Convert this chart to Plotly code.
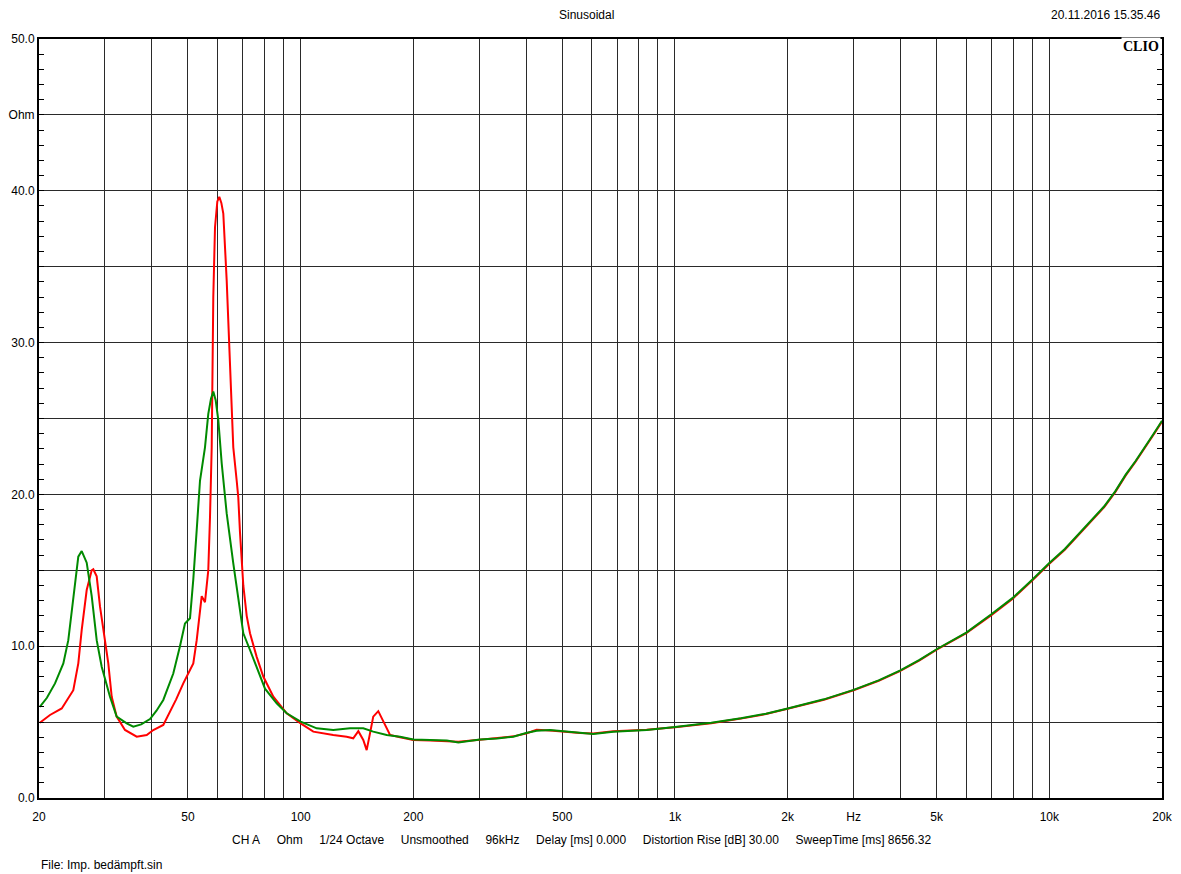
import plotly.graph_objects as go

# ---- Data ----
green_freq = [20.1, 21.0, 22.07, 23.23, 23.95, 24.70, 25.47, 26.01, 26.82, 27.66, 28.52, 29.41, 30.95,
              32.25, 34.30, 35.72, 37.5, 39.59, 41.2, 42.96, 45.68, 47.60, 49.09, 50.63, 51.67, 52.76,
              53.84, 55.52, 56.66, 57.6, 58.43, 59.3, 60.26, 61.53, 63.45, 66.08, 68.14, 70.28, 73.23,
              76.31, 80.31, 86.30, 91.77, 100, 110.4, 122.2, 135.5, 147.0, 156.3, 169.8, 184.3, 200,
              222, 245.7, 263.8, 301, 335, 369.9, 400, 427, 463.6, 510, 557.6, 605, 684, 760, 840,
              1000, 1250, 1500, 1750, 2000, 2500, 3000, 3500, 4000, 4500, 5000, 6000, 7000, 8000,
              9000, 10000, 11000, 12000, 13000, 14000, 15000, 16000, 17000, 18000, 19000, 20000]
green_ohm = [6.0, 6.6, 7.55, 8.87, 10.4, 13.3, 15.9, 16.27, 15.5, 13.3, 10.4, 8.65, 6.67,
             5.36, 4.92, 4.70, 4.85, 5.2, 5.75, 6.46, 8.2, 10.0, 11.5, 11.84, 14.4, 17.65,
             20.9, 23.1, 25.3, 26.3, 26.77, 26.2, 24.9, 22.05, 18.75, 15.46, 13.0, 10.85, 9.75,
             8.65, 7.2, 6.24, 5.58, 5.03, 4.59, 4.48, 4.59, 4.59, 4.37, 4.15, 4.04, 3.85,
             3.80, 3.78, 3.66, 3.86, 3.92, 4.04, 4.28, 4.43, 4.48, 4.38, 4.30, 4.22, 4.37, 4.42, 4.48,
             4.68, 4.95, 5.25, 5.55, 5.9, 6.5, 7.12, 7.75, 8.41, 9.1, 9.8, 10.9, 12.1, 13.2,
             14.38, 15.48, 16.4, 17.4, 18.3, 19.2, 20.2, 21.3, 22.2, 23.1, 24.0, 24.85]

red_freq = [20.1, 21.40, 23.00, 24.70, 25.47, 26.01, 26.82, 27.66, 27.93, 28.52, 29.11, 30.02,
            30.63, 31.28, 32.25, 33.94, 36.48, 38.80, 40.40, 42.96, 44.77, 46.5, 48.58, 50.2, 51.67,
            52.76, 54.41, 55.52, 56.66, 57.26, 57.86, 58.43, 59.05, 59.9, 60.63, 61.4, 62.14, 63.45,
            64.75, 66.08, 67.48, 68.14, 68.86, 70.28, 71.76, 73.23, 76.31, 79.47, 84.53, 91.77, 100,
            108.1, 122.2, 132.7, 138.2, 142.6, 147.0, 150.1, 153.2, 156.3, 161.2, 166.3, 173.3, 184.3,
            200, 222, 245.7, 263.8, 301, 335, 369.9, 400, 427, 463.6, 510, 557.6, 605, 684, 760, 840,
            1000, 1250, 1500, 1750, 2000, 2500, 3000, 3500, 4000, 4500, 5000, 6000, 7000, 8000,
            9000, 10000, 11000, 12000, 13000, 14000, 15000, 16000, 17000, 18000, 19000, 20000]
red_ohm = [4.96, 5.47, 5.9, 7.1, 8.87, 11.07, 13.7, 15.0, 15.07, 14.6, 12.6, 10.2,
           8.87, 6.67, 5.36, 4.48, 4.04, 4.15, 4.48, 4.81, 5.69, 6.5, 7.55, 8.2, 8.87,
           10.4, 13.3, 12.9, 15.0, 18.5, 23.1, 33.0, 37.6, 39.3, 39.6, 39.2, 38.5, 34.1,
           28.6, 23.1, 20.9, 19.8, 17.5, 14.0, 12.0, 10.85, 9.3, 8.0, 6.67, 5.58, 4.92,
           4.37, 4.15, 4.04, 3.93, 4.40, 3.82, 3.15, 4.26, 5.36, 5.72, 5.03, 4.15, 4.0,
           3.82, 3.78, 3.74, 3.70, 3.84, 3.95, 4.06, 4.25, 4.50, 4.45, 4.35, 4.28, 4.25, 4.40, 4.44, 4.50,
           4.66, 4.93, 5.23, 5.53, 5.88, 6.47, 7.10, 7.72, 8.38, 9.07, 9.77, 10.86, 12.05, 13.15,
           14.33, 15.43, 16.35, 17.35, 18.25, 19.15, 20.15, 21.25, 22.15, 23.05, 23.95, 24.8]

x_tickvals = [20, 30, 40, 50, 60, 70, 80, 90, 100, 200, 300, 400, 500, 600, 700, 800, 900,
              1000, 2000, 3000, 4000, 5000, 6000, 7000, 8000, 9000, 10000, 20000]
x_ticktext = ["20", "", "", "50", "", "", "", "", "100", "200", "", "", "500", "", "", "", "",
              "1k", "2k", "Hz", "", "5k", "", "", "", "", "10k", "20k"]
y_tickvals = [0, 5, 10, 15, 20, 25, 30, 35, 40, 45, 50]
y_ticktext = ["0.0", "", "10.0", "", "20.0", "", "30.0", "", "40.0", "Ohm", "50.0"]

FONT = "Liberation Sans, Arial, sans-serif"
FS = 12

fig = go.Figure()
fig.add_trace(go.Scatter(x=red_freq, y=red_ohm, mode="lines",
                         line=dict(color="#ff0000", width=2), showlegend=False))
fig.add_trace(go.Scatter(x=green_freq, y=green_ohm, mode="lines",
                         line=dict(color="#008a00", width=2), showlegend=False))

fig.update_layout(
    width=1181, height=874,
    margin=dict(l=39, r=19, t=39, b=76, autoexpand=False),
    paper_bgcolor="white", plot_bgcolor="white",
    font=dict(family=FONT, size=FS, color="#000000"),
    xaxis=dict(type="log", range=[1.30103, 4.30103], automargin=False,
               tickmode="array", tickvals=x_tickvals, ticktext=x_ticktext,
               showgrid=True, gridcolor="#2a2a2a", gridwidth=1,
               showline=True, linecolor="black", linewidth=2, mirror=True,
               ticks="", ticklabelstandoff=7, zeroline=False, tickfont=dict(size=FS)),
    yaxis=dict(range=[0, 50], automargin=False, tickmode="array",
               tickvals=y_tickvals, ticktext=y_ticktext,
               showgrid=True, gridcolor="#2a2a2a", gridwidth=1,
               showline=True, linecolor="black", linewidth=2, mirror="ticks",
               ticks="inside", ticklen=5, tickcolor="black", zeroline=False,
               minor=dict(ticks="inside", dtick=1, ticklen=5, tickcolor="black", showgrid=False),
               tickfont=dict(size=FS)),
)

gap = "&nbsp;" * 5
bottom = gap.join(["CH A", "Ohm", "1/24 Octave", "Unsmoothed", "96kHz", "Delay [ms] 0.000",
                   "Distortion Rise [dB] 30.00", "SweepTime [ms] 8656.32"])


def px(x, y):
    return (x - 39) / 1123, (798 - y) / 759


x, y = px(586, 15)
fig.add_annotation(text="Sinusoidal", xref="paper", yref="paper", x=x, y=y,
                   xanchor="center", yanchor="middle", showarrow=False,
                   font=dict(family=FONT, size=FS, color="black"))
x, y = px(230, 840)
fig.add_annotation(text=bottom, xref="paper", yref="paper", x=x, y=y,
                   xanchor="left", yanchor="middle", showarrow=False,
                   font=dict(family=FONT, size=FS, color="black"))
x, y = px(1163, 15)
fig.add_annotation(text="20.11.2016 15.35.46", xref="paper", yref="paper", x=x, y=y,
                   xanchor="right", yanchor="middle", showarrow=False,
                   font=dict(family=FONT, size=FS, color="black"))
x, y = px(39, 865)
fig.add_annotation(text="File: Imp. bedämpft.sin", xref="paper", yref="paper", x=x, y=y,
                   xanchor="left", yanchor="middle", showarrow=False,
                   font=dict(family=FONT, size=FS, color="black"))
x, y = px(1161, 47)
fig.add_annotation(text="<b>CLIO</b>", xref="paper", yref="paper", x=x, y=y,
                   xanchor="right", yanchor="middle", showarrow=False, bgcolor="white",
                   font=dict(family="Liberation Serif, DejaVu Serif, serif", size=14, color="black"))

fig.write_html("out.html", config={"displayModeBar": False},
               post_script="document.body.style.margin='0px';document.body.style.overflow='hidden';")
